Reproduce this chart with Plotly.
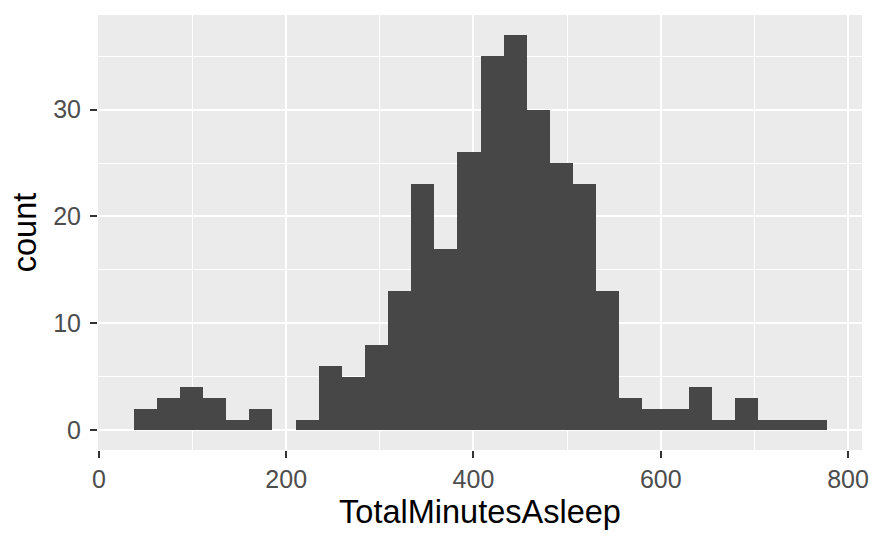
import plotly.graph_objects as go

# Histogram data (30 bins)
bin_start = 37.2
bin_width = 24.69
counts = [2, 3, 4, 3, 1, 2, 0, 1, 6, 5, 8, 13, 23, 17, 26, 35, 37, 30, 25, 23,
          13, 3, 2, 2, 4, 1, 3, 1, 1, 1]
x_ticks = [0, 200, 400, 600, 800]
y_ticks = [0, 10, 20, 30]

centers = [bin_start + bin_width * (i + 0.5) for i in range(len(counts))]

fig = go.Figure()
fig.add_trace(go.Bar(
    x=centers, y=counts, width=bin_width,
    marker=dict(color="#474747", line=dict(width=0)),
    hoverinfo="x+y",
))

lo = bin_start
hi = bin_start + bin_width * len(counts)
xpad = (hi - lo) * 0.05
ymax = max(counts)
ypad = ymax * 0.05

fig.update_layout(
    width=880, height=543,
    margin=dict(l=98, r=18, t=15, b=93, autoexpand=False),
    paper_bgcolor="white",
    plot_bgcolor="#EBEBEB",
    font=dict(family="Liberation Sans, Arial, sans-serif"),
    showlegend=False,
    bargap=0,
    xaxis=dict(
        range=[-1, hi + xpad],
        tickvals=x_ticks,
        ticks="outside", ticklen=7, tickwidth=2, tickcolor="#333333",
        tickfont=dict(size=25, color="#4D4D4D"),
        showgrid=True, gridcolor="white", gridwidth=2.2,
        minor=dict(tickvals=[100, 300, 500, 700], showgrid=True,
                   gridcolor="white", gridwidth=1.1, ticks=""),
        zeroline=False, showline=False, automargin=False,
        title=dict(text="TotalMinutesAsleep", font=dict(size=32.5, color="black"),
                   standoff=8),
    ),
    yaxis=dict(
        range=[-ypad, ymax + ypad],
        tickvals=y_ticks,
        ticks="outside", ticklen=7, tickwidth=2, tickcolor="#333333",
        tickfont=dict(size=25, color="#4D4D4D"),
        showgrid=True, gridcolor="white", gridwidth=2.2,
        minor=dict(tickvals=[5, 15, 25, 35], showgrid=True,
                   gridcolor="white", gridwidth=1.1, ticks=""),
        zeroline=False, showline=False, automargin=False,
        title=dict(text="count", font=dict(size=32.5, color="black"),
                   standoff=6),
        ticklabelstandoff=4,
    ),
)

fig.write_html("out.html",
               config={"displayModeBar": False},
               post_script="document.body.style.margin='0';document.body.style.padding='0';")
